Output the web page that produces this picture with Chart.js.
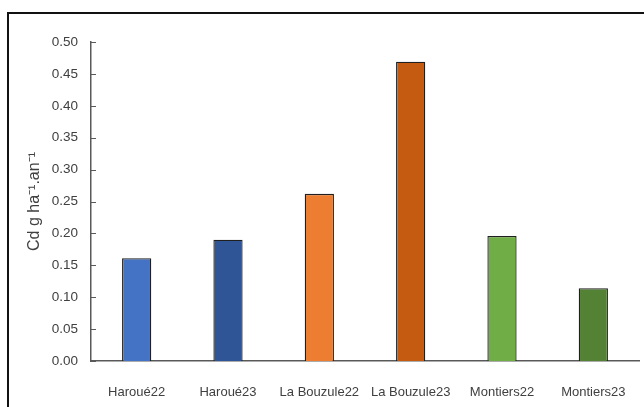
<!DOCTYPE html>
<html>
<head>
<meta charset="utf-8">
<script src="https://cdn.jsdelivr.net/npm/chart.js@4"></script>
<style>
  html, body { margin: 0; padding: 0; background: #fff; overflow: hidden; }
  #cadre { position: absolute; left: 7px; top: 12px; width: 700px; height: 460px; border: 2px solid #111; }
  #wrap { position: absolute; left: 0; top: 0; width: 644px; height: 407px; }
</style>
</head>
<body>
<div id="cadre"></div>
<div id="wrap"><canvas id="graf"></canvas></div>
<script>
// Données
const sites = ['Haroué22', 'Haroué23', 'La Bouzule22', 'La Bouzule23', 'Montiers22', 'Montiers23'];
const valeursCd = [0.161, 0.190, 0.262, 0.469, 0.196, 0.114];
const couleurs = ['#4472C4', '#2F5597', '#ED7D31', '#C55A11', '#70AD47', '#548235'];
const ticksY = [0, 0.05, 0.10, 0.15, 0.20, 0.25, 0.30, 0.35, 0.40, 0.45, 0.50];

const police = "'Liberation Sans', Arial, sans-serif";

// petites graduations tournées vers l'intérieur
const graduations = {
    id: 'graduations',
    afterDraw(chart) {
        const y = chart.scales.y;
        const ctx = chart.ctx;
        ctx.save();
        ctx.strokeStyle = '#595959';
        ctx.lineWidth = 1.2;
        ctx.beginPath();
        ticksY.forEach(v => {
            const py = Math.round(y.getPixelForValue(v)) + 0.5;
            ctx.moveTo(y.right, py);
            ctx.lineTo(y.right + 5, py);
        });
        ctx.stroke();
        ctx.restore();
    }
};

new Chart(document.getElementById('graf'), {
    type: 'bar',
    data: {
        labels: sites,
        datasets: [{
            data: valeursCd,
            backgroundColor: couleurs,
            borderColor: '#1f1f1f',
            borderWidth: 1.3,
            barPercentage: 0.32,
            categoryPercentage: 1
        }]
    },
    options: {
        responsive: true,
        maintainAspectRatio: false,
        animation: false,
        layout: { padding: { left: 25, right: 5, top: 42, bottom: 0 } },
        plugins: {
            legend: { display: false },
            tooltip: { enabled: false }
        },
        scales: {
            x: {
                grid: { display: false },
                border: { color: '#595959', width: 1.5 },
                ticks: { color: '#404040', font: { family: police, size: 13 }, padding: 16, maxRotation: 0, autoSkip: false },
                afterFit(s) { s.height = 46; }
            },
            y: {
                min: 0,
                max: 0.5,
                grid: { display: false, drawTicks: false },
                border: { color: '#595959', width: 1.5 },
                afterBuildTicks(s) { s.ticks = ticksY.map(v => ({ value: v })); },
                ticks: {
                    color: '#404040',
                    font: { family: police, size: 13.5 },
                    padding: 13,
                    callback: v => v.toFixed(2)
                },
                title: {
                    display: true,
                    text: 'Cd g ha⁻¹.an⁻¹',
                    color: '#404040',
                    font: { family: police, size: 16 },
                    padding: { top: 0, bottom: 2 }
                },
                afterFit(s) { s.width = 66; }
            }
        }
    },
    plugins: [graduations]
});
</script>
</body>
</html>
